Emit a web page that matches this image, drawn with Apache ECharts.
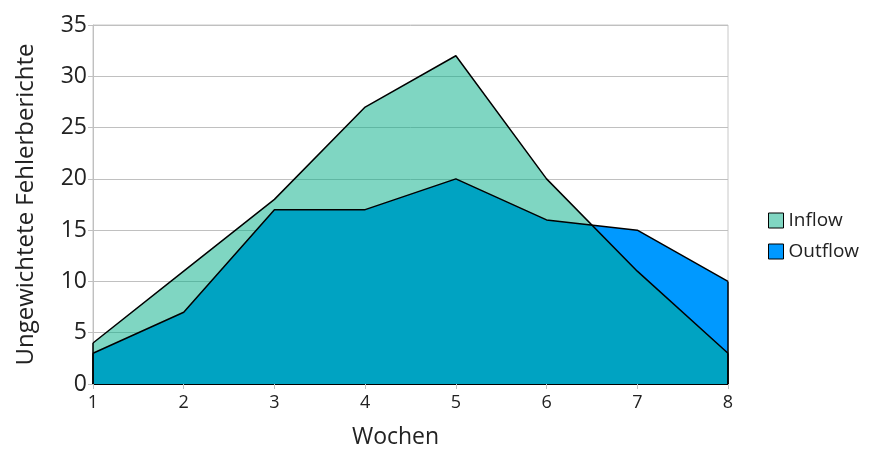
<!DOCTYPE html>
<html><head><meta charset="utf-8">
<script src="https://cdn.jsdelivr.net/npm/echarts@6/dist/echarts.min.js"></script>
<style>html,body{margin:0;padding:0;background:#fff}#c{width:869px;height:452px}</style>
</head><body><div id="c"></div>
<script>
const weeks = ['1','2','3','4','5','6','7','8'];
const inflow = [4, 11, 18, 27, 32, 20, 11, 3];
const outflow = [3, 7, 17, 17, 20, 16, 15, 10];
const yTicks = {min: 0, max: 35, interval: 5};

const font = '"Open Sans", "Noto Sans", sans-serif';
const chart = echarts.init(document.getElementById('c'));
function edges(vals) {
  const n = vals.length - 1;
  return {
    silent: true, symbol: 'none', label: {show: false},
    lineStyle: {color: '#000', width: 1.5, type: 'solid'},
    data: [
      [{coord: [weeks[0], 0]}, {coord: [weeks[0], vals[0]]}],
      [{coord: [weeks[n], 0]}, {coord: [weeks[n], vals[n]]}]
    ]
  };
}
chart.setOption({
  animation: false,
  textStyle: {fontFamily: font},
  grid: {left: 93, right: 141, top: 25, bottom: 68, outerBoundsMode: 'none', containLabel: false,
         show: true, borderColor: '#c8c8c8', borderWidth: 1, backgroundColor: 'transparent'},
  legend: {
    orient: 'vertical', left: 763, top: 206, itemWidth: 15, itemHeight: 15, itemGap: 12,
    icon: 'rect',
    textStyle: {fontFamily: font, fontSize: 19, color: '#222'},
    data: [
      {name: 'Inflow', itemStyle: {color: '#80D6C2', borderColor: '#000', borderWidth: 1}},
      {name: 'Outflow', itemStyle: {color: '#0099FF', borderColor: '#000', borderWidth: 1}}
    ]
  },
  xAxis: {
    type: 'category', data: weeks, boundaryGap: false,
    name: 'Wochen', nameLocation: 'middle', nameGap: 42,
    nameTextStyle: {fontFamily: font, fontSize: 23, color: '#222', padding: [0, 30, 0, 0]},
    axisLine: {lineStyle: {color: '#000', width: 2}},
    axisTick: {show: true, length: 5, lineStyle: {color: '#c0c0c0'}},
    axisLabel: {fontFamily: font, fontSize: 18, color: '#222', margin: 10},
    splitLine: {show: false}
  },
  yAxis: {
    type: 'value', min: yTicks.min, max: yTicks.max, interval: yTicks.interval,
    name: 'Ungewichtete Fehlerberichte', nameLocation: 'middle', nameGap: 55,
    nameTextStyle: {fontFamily: font, fontSize: 24, color: '#222'},
    axisLine: {show: true, lineStyle: {color: '#c0c0c0'}},
    axisTick: {show: true, length: 5, lineStyle: {color: '#c0c0c0'}},
    axisLabel: {fontFamily: font, fontSize: 23, color: '#222', margin: 6},
    splitLine: {lineStyle: {color: '#c0c0c0', width: 1}}
  },
  series: [
    {
      name: 'Outflow', type: 'line', data: outflow, symbol: 'none',
      itemStyle: {color: '#0099FF'},
      lineStyle: {color: '#000', width: 1.5},
      areaStyle: {color: '#0099FF', opacity: 1},
      markLine: edges(outflow)
    },
    {
      name: 'Inflow', type: 'line', data: inflow, symbol: 'none',
      itemStyle: {color: '#00AD85'},
      lineStyle: {color: '#000', width: 1.5},
      areaStyle: {color: '#00AD85', opacity: 0.5},
      markLine: edges(inflow)
    }
  ]
});
</script></body></html>
